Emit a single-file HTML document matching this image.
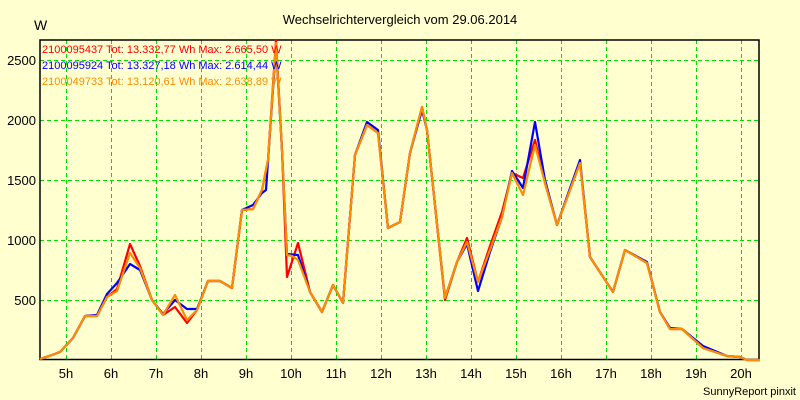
<!DOCTYPE html><html><head><style>
body{margin:0;background:#ffffd0;}
svg{display:block;font-family:"Liberation Sans",Arial,sans-serif;}
</style></head><body>
<svg width="800" height="400" viewBox="0 0 800 400">
<rect width="800" height="400" fill="#ffffd0"/>
<text x="400" y="24" font-size="13" text-anchor="middle" fill="#000">Wechselrichtervergleich vom 29.06.2014</text>
<text x="34" y="30" font-size="14" fill="#000">W</text>
<g stroke="#00e000" stroke-width="1" stroke-dasharray="4,3">
<line x1="40" x2="759" y1="60.5" y2="60.5"/><line x1="40" x2="759" y1="120.5" y2="120.5"/><line x1="40" x2="759" y1="180.5" y2="180.5"/><line x1="40" x2="759" y1="240.5" y2="240.5"/><line x1="40" x2="759" y1="300.5" y2="300.5"/>
<line y1="40" y2="359" x1="66.5" x2="66.5"/><line y1="40" y2="359" x1="111.5" x2="111.5"/><line y1="40" y2="359" x1="156.5" x2="156.5"/><line y1="40" y2="359" x1="201.5" x2="201.5"/><line y1="40" y2="359" x1="246.5" x2="246.5"/><line y1="40" y2="359" x1="291.5" x2="291.5"/><line y1="40" y2="359" x1="336.5" x2="336.5"/><line y1="40" y2="359" x1="381.5" x2="381.5"/><line y1="40" y2="359" x1="426.5" x2="426.5"/><line y1="40" y2="359" x1="471.5" x2="471.5"/><line y1="40" y2="359" x1="516.5" x2="516.5"/><line y1="40" y2="359" x1="561.5" x2="561.5"/><line y1="40" y2="359" x1="606.5" x2="606.5"/><line y1="40" y2="359" x1="651.5" x2="651.5"/><line y1="40" y2="359" x1="696.5" x2="696.5"/><line y1="40" y2="359" x1="741.5" x2="741.5"/>
</g>
<rect x="40" y="40" width="719" height="319.5" fill="none" stroke="#000" stroke-width="1.5"/>
<g font-size="13" fill="#000" text-anchor="end">
<text x="36" y="65">2500</text><text x="36" y="125">2000</text><text x="36" y="185">1500</text><text x="36" y="245">1000</text><text x="36" y="305">500</text>
</g>
<g font-size="13" fill="#000" text-anchor="middle">
<text x="66" y="378">5h</text><text x="111" y="378">6h</text><text x="156" y="378">7h</text><text x="201" y="378">8h</text><text x="246" y="378">9h</text><text x="291" y="378">10h</text><text x="336" y="378">11h</text><text x="381" y="378">12h</text><text x="426" y="378">13h</text><text x="471" y="378">14h</text><text x="516" y="378">15h</text><text x="561" y="378">16h</text><text x="606" y="378">17h</text><text x="651" y="378">18h</text><text x="696" y="378">19h</text><text x="741" y="378">20h</text>
</g>
<text x="796" y="395" font-size="11" text-anchor="end" fill="#000">SunnyReport pinxit</text>
<g fill="none" stroke-width="2.2" stroke-linejoin="round">
<polyline stroke="#ff0000" points="40,359 52,355 60,352 73,338 85,316 97,316 107,297 117,289 130,244 140,266 152,300 163,315 175,307 187,323 197,310 208,281 220,281 232,288 242,210 253,209 262,190 268,160 276,40 282,150 287,277 298,243 310,292 322,312 333,285 343,303 355,155 367,125 378,133 388,228 400,222 410,153 422,107 427,130 445,300 457,262 467,238 478,282 490,246 502,212 512,173 523,178 535,140 545,183 557,225 580,163 590,257 613,292 625,250 647,263 660,312 670,329 682,329 703,348 727,356 740,357 747,360 760,360"/>
<polyline stroke="#0000ff" points="40,359 52,355 60,352 73,338 85,316 97,315 107,294 117,283 130,264 140,270 152,300 163,314 175,300 187,309 197,309 208,281 220,281 232,288 242,210 253,205 262,193 266,190 276,46 282,150 287,254 298,255 310,292 322,312 333,285 343,303 355,155 367,122 378,130 388,228 400,222 410,153 422,110 427,130 445,298 457,262 467,244 478,291 490,252 502,217 512,171 523,188 535,122 545,180 557,225 580,160 590,257 613,292 625,250 647,262 660,312 670,328 682,329 703,346 727,356 740,357 747,360 760,360"/>
<polyline stroke="#ff8c00" points="40,359 52,355 60,352 73,338 85,316 97,316 107,297 117,291 130,253 140,268 152,300 163,315 175,295 187,320 197,310 208,281 220,281 232,288 242,210 253,209 262,190 268,160 276,43 282,150 287,255 292,256 298,260 310,292 322,312 333,285 343,303 355,155 367,125 378,133 388,228 400,222 410,153 422,107 427,130 445,298 457,262 467,242 478,282 490,250 502,217 512,173 523,195 535,145 545,183 557,225 580,163 590,257 613,292 625,250 647,263 660,312 670,329 682,329 703,348 727,356 740,357 747,360 760,360"/>
</g>
<g font-size="11">
<text x="42" y="53" fill="#ff0000">2100095437 Tot: 13.332,77 Wh Max: 2.665,50 W</text>
<text x="42" y="69" fill="#0000ff">2100095924 Tot: 13.327,18 Wh Max: 2.614,44 W</text>
<text x="42" y="85" fill="#ff8c00">2100049733 Tot: 13.120,61 Wh Max: 2.638,89 W</text>
</g>
</svg>
</body></html>
